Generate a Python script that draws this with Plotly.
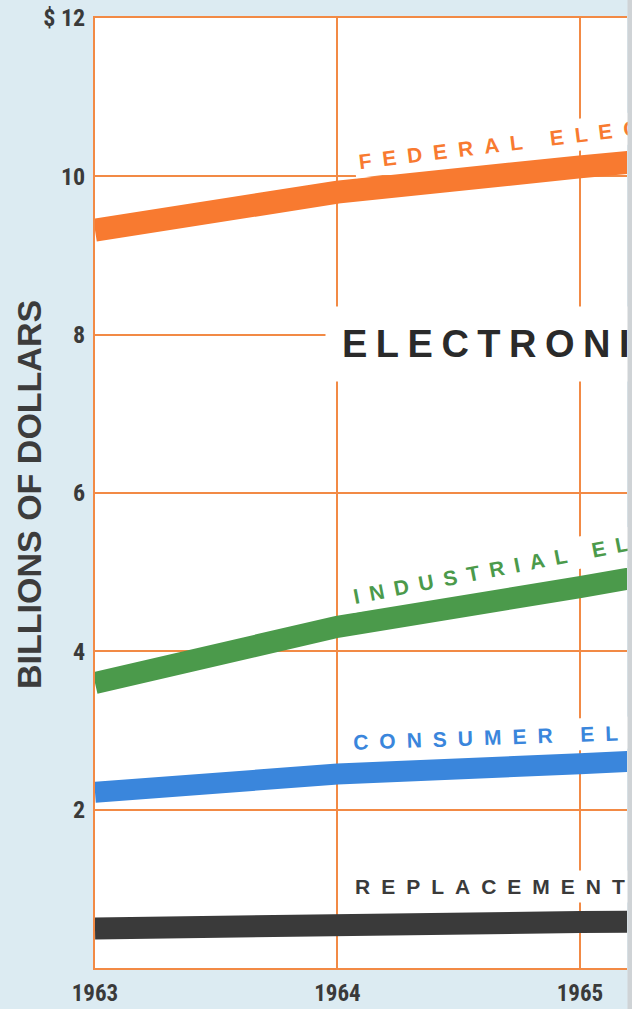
import plotly.graph_objects as go

# data (billions of dollars)
years = [1963, 1964, 1965, 1966]
federal = [9.32, 9.80, 10.12, 10.40]
industrial = [3.60, 4.31, 4.81, 5.35]
consumer = [2.22, 2.45, 2.58, 2.72]
replacement = [0.50, 0.56, 0.58, 0.60]

y_ticks = [2, 4, 6, 8, 10, 12]
y_ticktext = ["2", "4", "6", "8", "10", "$ 12"]
x_ticks = [1963, 1964, 1965]

BG = "#dcebf2"
GRID = "#f28a45"
ORANGE = "#f87a30"
GREEN = "#4b9a4b"
BLUE = "#3a86dc"
DARK = "#3a3a3a"
TICK_FONT = "Liberation Sans Narrow, Roboto Condensed, Liberation Sans, Arial, sans-serif"
BOLD_FONT = "Liberation Sans, Arial, Helvetica, sans-serif"

series = [
    ("Federal", federal, ORANGE, 23),
    ("Industrial", industrial, GREEN, 22),
    ("Consumer", consumer, BLUE, 21),
    ("Replacement", replacement, DARK, 22),
]

fig = go.Figure()
for name, vals, color, w in series:
    fig.add_trace(go.Scatter(
        x=years, y=vals, name=name, mode="lines",
        line=dict(color=color, width=w),
        showlegend=False,
    ))


def spaced(text, gap):
    return f"<span style='letter-spacing:{gap}px'>{text}</span>"


labels = [
    # text, x, y, angle, color, size, gap, pad
    ("<b>FEDERAL ELECTRONICS</b>", 1964.06, 9.97, -7, ORANGE, 21, 11, 4),
    ("<b>ELECTRONICS</b>", 1963.95, 7.40, 0, "#2a2a2a", 38, 8.5, 16),
    ("<b>INDUSTRIAL ELECTRONICS</b>", 1964.035, 4.48, -11, GREEN, 21, 10, 4),
    ("<b>CONSUMER ELECTRONICS</b>", 1964.04, 2.64, -2, BLUE, 21, 11, 4),
    ("<b>REPLACEMENT PARTS</b>", 1964.05, 0.82, 0, DARK, 21, 11, 4),
]
for text, x, y, ang, color, size, gap, pad in labels:
    fig.add_annotation(
        x=x, y=y, xref="x", yref="y",
        text=spaced(text, gap), showarrow=False,
        xanchor="left", yanchor="bottom", textangle=ang,
        font=dict(family=BOLD_FONT, size=size, color=color),
        bgcolor="white", borderpad=pad,
    )

# y axis title
fig.add_annotation(
    x=-0.124, y=0.498, xref="paper", yref="paper",
    text="<b>BILLIONS OF DOLLARS</b>", showarrow=False, textangle=-90,
    font=dict(family=BOLD_FONT, size=34, color="#3c3c3c"),
    xanchor="center", yanchor="middle",
)

# page edge on the right, drawn last so it covers the labels
fig.add_annotation(
    x=1.0, y=0.5, xref="paper", yref="paper", text=" ", showarrow=False,
    xanchor="left", yanchor="middle", width=5, height=1100,
    bgcolor="#cfd3d6", borderpad=0,
)

fig.update_layout(
    width=632, height=1009,
    margin=dict(l=95, r=5, t=18, b=41),
    paper_bgcolor=BG, plot_bgcolor="white",
    font=dict(family=TICK_FONT, color="#3a3a3a"),
    xaxis=dict(
        range=[1963, 1965.194], tickvals=x_ticks, ticktext=[str(v) for v in x_ticks],
        showgrid=True, gridcolor=GRID, gridwidth=1.5, zeroline=False,
        showline=True, linecolor=GRID, linewidth=2, mirror=True,
        ticks="", ticklabelstandoff=3, automargin=False,
        tickfont=dict(family=TICK_FONT, size=23, color="#3a3a3a", weight="bold"),
    ),
    yaxis=dict(
        range=[0, 12], tickvals=y_ticks, ticktext=y_ticktext,
        showgrid=True, gridcolor=GRID, gridwidth=1.5, zeroline=False,
        showline=True, linecolor=GRID, linewidth=2, mirror=False,
        ticks="", ticklabelstandoff=3, automargin=False,
        tickfont=dict(family=TICK_FONT, size=24, color="#3a3a3a", weight="bold"),
    ),
)

fig.write_html("out.html", config={"displayModeBar": False},
               post_script="document.body.style.margin='0';")
